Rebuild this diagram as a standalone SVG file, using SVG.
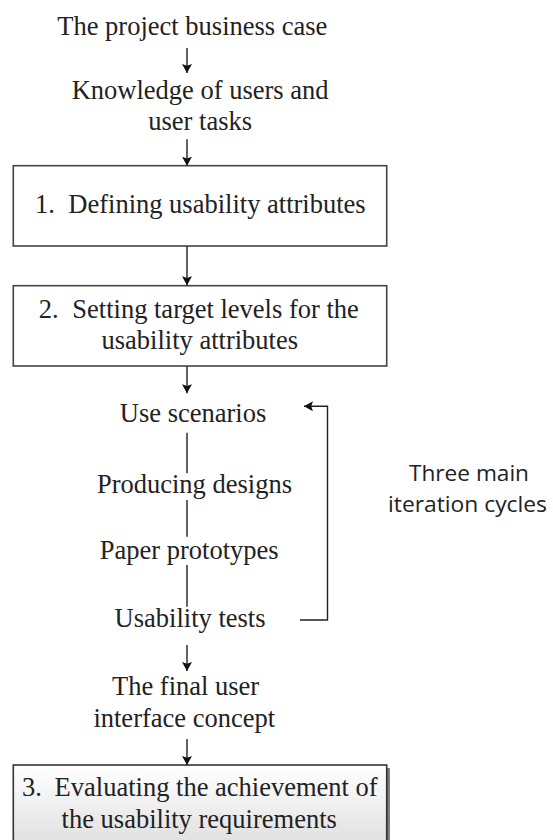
<svg xmlns="http://www.w3.org/2000/svg" width="553" height="840" viewBox="0 0 553 840">
<style>
.t{font-family:"Liberation Serif","Times New Roman",serif;font-size:26.5px;fill:#222}
.s{font-family:"Open Sans","Noto Sans",sans-serif;font-size:22.6px;fill:#222}
.box{fill:#fff;stroke:#444;stroke-width:1.6}
.ln{fill:none;stroke:#222;stroke-width:1.4}
</style>
<defs>
<marker id="ah" viewBox="0 0 10 10" refX="10" refY="5" markerWidth="9" markerHeight="10" markerUnits="userSpaceOnUse" orient="auto" preserveAspectRatio="none">
<path d="M0,0 L10,5 L0,10 L2,5 z" fill="#111"/>
</marker>
<linearGradient id="g3" x1="0" y1="0" x2="0" y2="1">
<stop offset="0" stop-color="#ffffff"/>
<stop offset="1" stop-color="#dedede"/>
</linearGradient>
</defs>
<rect width="553" height="840" fill="#fff"/>

<g id="business-case">
<text class="t" x="57.3" y="35">The project business case</text>
</g>
<g id="knowledge">
<text class="t" x="71.7" y="99.3">Knowledge of users and</text>
<text class="t" x="148.3" y="130">user tasks</text>
</g>
<g id="step1">
<rect class="box" x="13.3" y="165.7" width="373.4" height="80.3"/>
<text class="t" y="213.3"><tspan x="35">1.</tspan><tspan x="68.3">Defining usability attributes</tspan></text>
</g>
<g id="step2">
<rect class="box" x="13.3" y="285.7" width="373.4" height="80.3"/>
<text class="t" y="317.7"><tspan x="38.8">2.</tspan><tspan x="72.3">Setting target levels for the</tspan></text>
<text class="t" x="101.5" y="349.3">usability attributes</text>
</g>
<g id="use-scenarios"><text class="t" x="119.8" y="421.7">Use scenarios</text></g>
<g id="producing-designs"><text class="t" x="96.9" y="492.7">Producing designs</text></g>
<g id="paper-prototypes"><text class="t" x="99.8" y="559.3">Paper prototypes</text></g>
<g id="usability-tests"><text class="t" x="114.6" y="626.7">Usability tests</text></g>
<g id="iteration-label">
<text class="s" x="409" y="480.7" textLength="120" lengthAdjust="spacingAndGlyphs">Three main</text>
<text class="s" x="388" y="512.3" textLength="159" lengthAdjust="spacingAndGlyphs">iteration cycles</text>
</g>
<g id="final-concept">
<text class="t" x="112" y="695">The final user</text>
<text class="t" x="93.4" y="726.7">interface concept</text>
</g>
<g id="step3">
<rect x="386.7" y="768" width="3.2" height="80" fill="#777"/>
<rect x="13.3" y="765" width="373.4" height="85" fill="url(#g3)" stroke="#333" stroke-width="1.6"/>
<text class="t" y="796.3"><tspan x="21.9">3.</tspan><tspan x="54.6">Evaluating the achievement of</tspan></text>
<text class="t" x="61.6" y="827.5">the usability requirements</text>
</g>

<g id="connectors">
<line class="ln" x1="187" y1="48" x2="187" y2="73" marker-end="url(#ah)"/>
<line class="ln" x1="187" y1="139.3" x2="187" y2="165.7" marker-end="url(#ah)"/>
<line class="ln" x1="187" y1="246" x2="187" y2="285.3" marker-end="url(#ah)"/>
<line class="ln" x1="187" y1="366" x2="187" y2="393.3" marker-end="url(#ah)"/>
<line class="ln" x1="187" y1="432.7" x2="187" y2="473.3"/>
<line class="ln" x1="187" y1="500" x2="187" y2="536.7"/>
<line class="ln" x1="187" y1="565" x2="187" y2="606.7"/>
<line class="ln" x1="187" y1="645" x2="187" y2="671" marker-end="url(#ah)"/>
<line class="ln" x1="187" y1="739" x2="187" y2="765" marker-end="url(#ah)"/>
<polyline class="ln" points="300,620 327.5,620 327.5,406.3 304,406.3" marker-end="url(#ah)"/>
</g>
</svg>
